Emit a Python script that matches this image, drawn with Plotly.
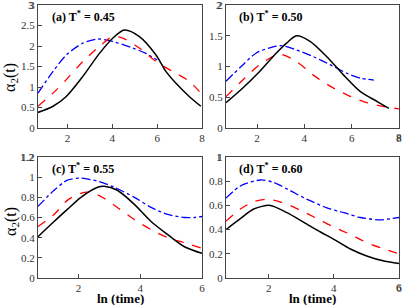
import plotly.graph_objects as go

# ---------------- data ----------------
# panel (a) T* = 0.45
a_black_x = [0.69, 1.36, 1.95, 2.69, 3.43, 4.02, 4.54, 5.21, 5.95, 6.39, 6.84, 7.43, 7.95]
a_black_y = [0.38, 0.53, 0.77, 1.26, 1.82, 2.19, 2.39, 2.23, 1.78, 1.38, 1.09, 0.77, 0.53]
a_red_x = [0.69, 1.36, 1.95, 2.69, 3.43, 4.02, 4.47, 5.21, 5.95, 6.69, 7.43, 7.95]
a_red_y = [0.53, 0.85, 1.18, 1.62, 1.99, 2.23, 2.19, 1.95, 1.62, 1.38, 1.14, 0.85]
a_blue_x = [0.69, 1.36, 1.95, 2.69, 3.36, 4.02, 4.91, 5.50, 6.00]
a_blue_y = [0.85, 1.38, 1.78, 2.07, 2.17, 2.11, 1.95, 1.82, 1.66]

# panel (b) T* = 0.50
b_black_x = [0.69, 1.40, 2.11, 2.82, 3.25, 3.67, 4.24, 4.95, 5.66, 6.37, 7.08, 7.57]
b_black_y = [0.41, 0.65, 0.92, 1.22, 1.38, 1.50, 1.41, 1.16, 0.86, 0.59, 0.43, 0.32]
b_red_x = [0.69, 1.40, 2.11, 2.96, 3.67, 4.38, 5.09, 5.80, 6.50, 7.21, 8.00]
b_red_y = [0.51, 0.78, 1.03, 1.20, 1.08, 0.86, 0.68, 0.54, 0.43, 0.36, 0.31]
b_blue_x = [0.69, 1.33, 1.97, 2.68, 3.04, 3.67, 4.38, 5.09, 5.80, 6.37, 6.94]
b_blue_y = [0.76, 1.00, 1.22, 1.32, 1.34, 1.27, 1.16, 1.03, 0.89, 0.81, 0.78]

# panel (c) T* = 0.55
c_black_x = [0.69, 1.21, 1.64, 2.08, 2.62, 2.83, 3.26, 3.81, 4.35, 4.89, 5.43, 6.00]
c_black_y = [0.41, 0.56, 0.68, 0.80, 0.90, 0.91, 0.87, 0.73, 0.56, 0.43, 0.31, 0.245]
c_red_x = [0.69, 1.21, 1.64, 2.08, 2.35, 2.72, 3.26, 3.81, 4.35, 4.89, 5.43, 6.00]
c_red_y = [0.51, 0.63, 0.77, 0.84, 0.85, 0.81, 0.70, 0.58, 0.48, 0.40, 0.35, 0.295]
c_blue_x = [0.69, 1.21, 1.64, 2.08, 2.62, 3.16, 3.81, 4.35, 4.89, 5.43, 5.75, 6.00]
c_blue_y = [0.71, 0.87, 0.97, 0.99, 0.96, 0.90, 0.80, 0.70, 0.63, 0.60, 0.60, 0.61]

# panel (d) T* = 0.60
d_black_x = [0.69, 1.13, 1.54, 2.05, 2.56, 3.08, 3.59, 4.00, 4.51, 5.03, 5.54, 6.00]
d_black_y = [0.40, 0.49, 0.57, 0.60, 0.54, 0.46, 0.38, 0.32, 0.24, 0.18, 0.14, 0.12]
d_red_x = [0.69, 1.13, 1.54, 1.95, 2.46, 2.97, 3.49, 4.00, 4.51, 5.03, 5.54, 6.00]
d_red_y = [0.47, 0.57, 0.63, 0.65, 0.62, 0.56, 0.49, 0.42, 0.36, 0.29, 0.24, 0.20]
d_blue_x = [0.69, 1.13, 1.74, 2.15, 2.67, 3.18, 3.79, 4.31, 4.82, 5.44, 5.74, 6.00]
d_blue_y = [0.66, 0.76, 0.81, 0.79, 0.72, 0.65, 0.58, 0.54, 0.50, 0.48, 0.49, 0.50]

panel_labels = ["(a) T<sup>*</sup> = 0.45", "(b) T<sup>*</sup> = 0.50",
                "(c) T<sup>*</sup> = 0.55", "(d) T<sup>*</sup> = 0.60"]
y_ranges = [[0, 3], [0, 2], [0, 1.2], [0, 1]]
y_top_labels = ["3", "2", "1.2", "1"]
y_dticks = [0.5, 0.5, 0.2, 0.2]
x_ranges = [[0.69, 8], [0.69, 8], [0.69, 6], [0.69, 6]]
x_right_labels = ["8", "8", "6", "6"]
x_dticks = [2, 2, 2, 2]

panels = [
    (a_black_x, a_black_y, a_red_x, a_red_y, a_blue_x, a_blue_y),
    (b_black_x, b_black_y, b_red_x, b_red_y, b_blue_x, b_blue_y),
    (c_black_x, c_black_y, c_red_x, c_red_y, c_blue_x, c_blue_y),
    (d_black_x, d_black_y, d_red_x, d_red_y, d_blue_x, d_blue_y),
]

W, H = 402, 305
PAD = 12  # extra room around the visible area
x_doms = [[38 / W, 202 / W], [226 / W, 399 / W]]
y_doms = [[1 - 128 / H, 1 - 5 / H], [1 - 278 / H, 1 - 157 / H]]

FONT = "Times New Roman, Liberation Serif, serif"
TICKFONT = dict(family=FONT, size=11, color="#333")

fig = go.Figure()
layout = dict(
    width=W + 2 * PAD, height=H + 2 * PAD,
    margin=dict(l=PAD, r=PAD, t=PAD, b=PAD, pad=0, autoexpand=False),
    paper_bgcolor="white", plot_bgcolor="white", showlegend=False,
    font=dict(family=FONT, color="#222", size=10),
)
annotations = []
for i, (bx, by, rx, ry, ux, uy) in enumerate(panels):
    row, col = divmod(i, 2)
    sfx = "" if i == 0 else str(i + 1)
    xa, ya = "x" + sfx, "y" + sfx
    fig.add_trace(go.Scatter(x=ux, y=uy, mode="lines", line=dict(color="#0000ff", width=1.3, dash="dashdot", shape="spline", smoothing=0.8), xaxis=xa, yaxis=ya))
    fig.add_trace(go.Scatter(x=rx, y=ry, mode="lines", line=dict(color="#ff0000", width=1.3, dash="dash", shape="spline", smoothing=0.8), xaxis=xa, yaxis=ya))
    fig.add_trace(go.Scatter(x=bx, y=by, mode="lines", line=dict(color="black", width=1.5, shape="spline", smoothing=0.8), xaxis=xa, yaxis=ya))
    axcommon = dict(showgrid=False, zeroline=False, showline=True, linecolor="#444", linewidth=1,
                    mirror=True, ticks="inside", ticklen=4, tickcolor="#444", automargin=False,
                    ticklabelstandoff=0, ticklabeloverflow="allow",
                    tickfont=TICKFONT)
    layout["xaxis" + sfx] = dict(axcommon, domain=x_doms[col], range=x_ranges[i], dtick=x_dticks[i],
                                 tick0=0, anchor=ya)
    layout["yaxis" + sfx] = dict(axcommon, domain=y_doms[row], range=y_ranges[i], dtick=y_dticks[i],
                                 tick0=0, anchor=xa)
    # edge tick labels that Plotly hides at the top / right ends of the axes
    annotations.append(dict(text=y_top_labels[i], xref=xa + " domain", x=0, yref=ya, y=y_ranges[i][1],
                            xanchor="right", yanchor="middle", xshift=-2, showarrow=False, font=TICKFONT))
    if col == 1:
        annotations.append(dict(text=x_right_labels[i], xref=xa, x=x_ranges[i][1], yref=ya + " domain", y=0,
                                xanchor="center", yanchor="top", yshift=-1, showarrow=False, font=TICKFONT))
    annotations.append(dict(text="<b>" + panel_labels[i] + "</b>", xref="paper", yref="paper",
                            x=(50 if col == 0 else 237) / W, y=1 - (16 if row == 0 else 168) / H,
                            xanchor="left", yanchor="middle", showarrow=False,
                            font=dict(family=FONT, size=12, color="black")))

for yc in [78, 222]:
    annotations.append(dict(text="α<sub>2</sub>(t)", xref="paper", yref="paper", x=11 / W, y=1 - yc / H,
                            xanchor="center", yanchor="middle", textangle=-90, showarrow=False,
                            font=dict(family=FONT, size=16, color="black")))
for xc in [120, 312]:
    annotations.append(dict(text="<b>ln (time)</b>", xref="paper", yref="paper", x=xc / W, y=1 - 298 / H,
                            xanchor="center", yanchor="middle", showarrow=False,
                            font=dict(family=FONT, size=13, color="black")))
layout["annotations"] = annotations
fig.update_layout(**layout)
fig.write_html("out.html", config={"displayModeBar": False},
               post_script="document.body.style.margin='-%dpx 0 0 -%dpx';document.body.style.overflow='hidden';" % (PAD, PAD))
